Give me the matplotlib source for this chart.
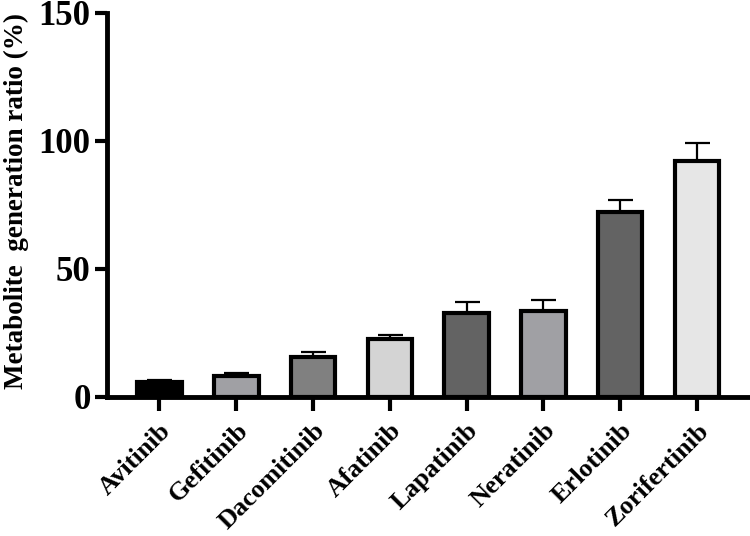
import matplotlib
matplotlib.use("Agg")
import matplotlib.pyplot as plt
import numpy as np

drugs = ["Avitinib", "Gefitinib", "Dacomitinib", "Afatinib",
         "Lapatinib", "Neratinib", "Erlotinib", "Zorifertinib"]
values = [5.6, 8.2, 15.4, 22.4, 32.5, 33.5, 72.2, 92.2]
errors = [0.9, 0.9, 1.9, 1.8, 4.3, 4.2, 4.5, 6.8]
colors = ["#000000", "#a0a0a4", "#808080", "#d4d4d4",
          "#636363", "#a0a0a4", "#636363", "#e6e6e6"]
yticks = [0, 50, 100, 150]

plt.rcParams['font.family'] = ['Liberation Serif', 'DejaVu Serif']
plt.rcParams['font.weight'] = 'bold'

fig = plt.figure(figsize=(7.5, 5.36), dpi=100)
ax = fig.add_axes([0.143, 0.26, 0.857, 0.716])

x = np.arange(len(drugs))
ax.bar(x, values, width=0.58, color=colors, edgecolor="black", linewidth=3.0, zorder=3)
ax.errorbar(x, values, yerr=[np.zeros(len(errors)), errors], fmt="none",
            ecolor="black", elinewidth=1.6, capsize=9, capthick=1.6, zorder=2)

ax.set_xlim(-0.68, 7.69)
ax.set_ylim(0, 150)
ax.set_yticks(yticks)
ax.set_yticklabels([str(t) for t in yticks], fontsize=25, fontweight='bold')
ax.set_xticks(x)
ax.set_xticklabels(drugs, rotation=45, ha='right', rotation_mode='anchor',
                   fontsize=19, fontweight='bold')
ax.set_ylabel("Metabolite  generation ratio (%)", fontsize=19.5, fontweight='bold')
ax.yaxis.set_label_coords(-0.122, 0.51)

for s in ["top", "right"]:
    ax.spines[s].set_visible(False)
for s in ["left", "bottom"]:
    ax.spines[s].set_linewidth(3.5)
ax.tick_params(axis='y', length=9, width=3, pad=3)
ax.tick_params(axis='x', length=10, width=3, pad=6)

fig.savefig("out.png", dpi=100)
